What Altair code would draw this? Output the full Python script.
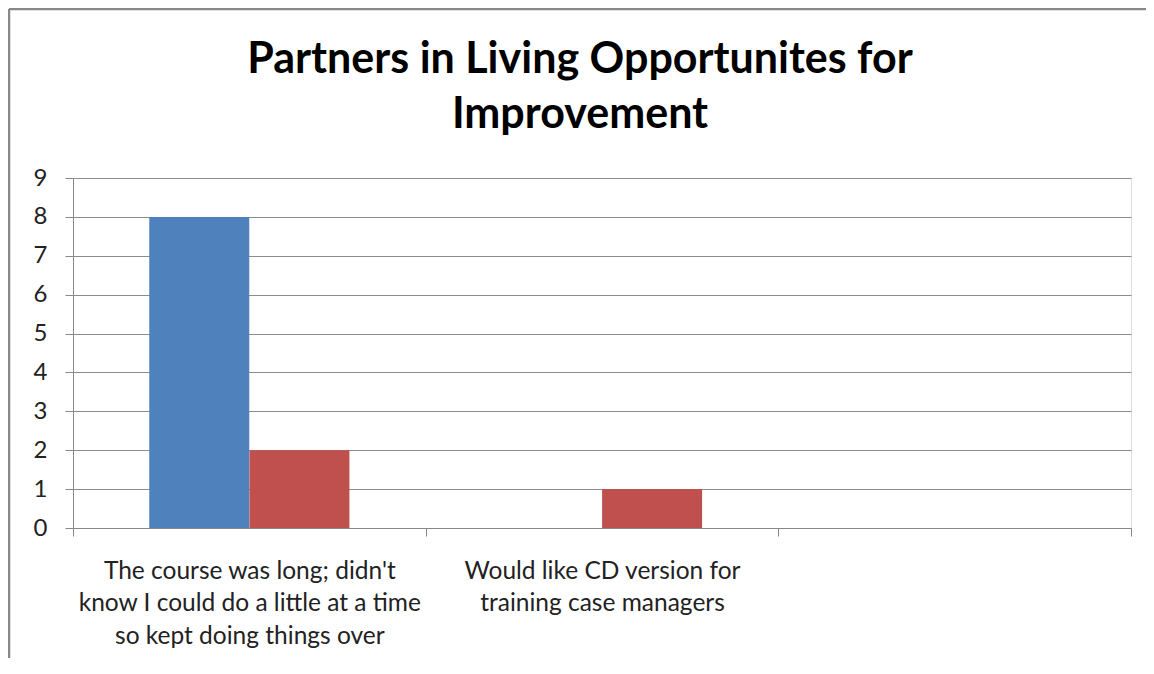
import altair as alt
import pandas as pd

# Category labels (lines of each tick label); third category has no label
cat_lines = [
    ["The course was long; didn't", "know I could do a little at a time", "so kept doing things over"],
    ["Would like CD version for", "training case managers"],
    [" "],
]
categories = ["|".join(c) for c in cat_lines]

series_names = ["Series1", "Series2"]
series1_values = [8, 0]
series2_values = [2, 1]
series_colors = ["#4F81BD", "#C0504D"]

title_lines = ["Partners in Living Opportunites for", "Improvement"]

rows = []
for i, v in enumerate(series1_values):
    rows.append({"category": categories[i], "series": series_names[0], "value": v})
for i, v in enumerate(series2_values):
    rows.append({"category": categories[i], "series": series_names[1], "value": v})
df = pd.DataFrame(rows)

W, H = 1058, 350
PAD_L, PAD_T, PAD_R, PAD_B = 65, 170, 15, 130

bars = alt.Chart(df).mark_bar(size=100).encode(
    x=alt.X(
        "category:N",
        sort=categories,
        scale=alt.Scale(domain=categories, paddingInner=0, paddingOuter=0),
        axis=alt.Axis(
            title=None,
            labelAngle=0,
            labelExpr="isValid(datum.value) ? split(datum.value, '|') : ''",
            labelFont="Lato",
            labelFontSize=24.5,
            labelColor="#222222",
            labelLineHeight=32.5,
            labelPadding=23,
            labelLimit=420,
            tickBand="extent",
            tickSize=8,
            tickColor="#888888",
            domainColor="#888888",
            grid=False,
        ),
    ),
    xOffset=alt.XOffset(
        "series:N",
        sort=series_names,
        scale=alt.Scale(domain=series_names, paddingOuter=0.76, paddingInner=0),
    ),
    y=alt.Y(
        "value:Q",
        scale=alt.Scale(domain=[0, 9], nice=False),
        axis=alt.Axis(
            title=None,
            values=list(range(10)),
            format="d",
            labelFont="Lato",
            labelFontSize=24,
            labelColor="#222222",
            labelPadding=18,
            tickSize=8,
            tickColor="#888888",
            domainColor="#888888",
            gridColor="#8c8c8c",
            gridWidth=1.2,
        ),
    ),
    color=alt.Color(
        "series:N",
        scale=alt.Scale(domain=series_names, range=series_colors),
        legend=None,
    ),
)

one = pd.DataFrame({"a": [0]})
frame_left = alt.Chart(one).mark_rule(color="#888888", strokeWidth=2.5).encode(
    x=alt.value(-64), y=alt.value(-169), y2=alt.value(H + PAD_B)
)
frame_top = alt.Chart(one).mark_rule(color="#888888", strokeWidth=2.5).encode(
    x=alt.value(-64), x2=alt.value(W + PAD_R), y=alt.value(-169)
)
title = alt.Chart(one).mark_text(
    font="Lato",
    fontSize=43,
    fontWeight="bold",
    color="#000000",
    align="center",
    baseline="alphabetic",
    lineHeight=55,
).encode(
    x=alt.value(507),
    y=alt.value(-105),
    text=alt.value(title_lines),
)

chart = alt.layer(bars, frame_left, frame_top, title).properties(
    width=W,
    height=H,
    autosize=alt.AutoSizeParams(type="none"),
    padding={"left": PAD_L, "top": PAD_T, "right": PAD_R, "bottom": PAD_B},
).configure_view(stroke=None).configure(background="white")

chart.save("out.html", embed_options={"renderer": "svg", "actions": False})
